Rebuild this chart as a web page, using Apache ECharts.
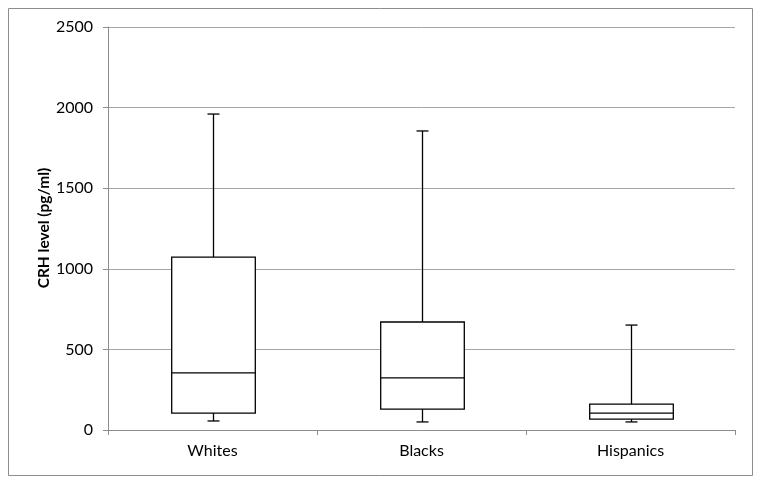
<!DOCTYPE html>
<html><head><meta charset="utf-8">
<script src="https://cdn.jsdelivr.net/npm/echarts@6/dist/echarts.min.js"></script>
<style>html,body{margin:0;padding:0;background:#fff}#c{width:761px;height:483px}</style>
</head><body><div id="c"></div>
<script>
const categories = ['Whites', 'Blacks', 'Hispanics'];
const whiskerLow = [56, 50, 50];
const q1 = [105, 130, 68];
const median = [354, 323, 105];
const q3 = [1073, 670, 161];
const whiskerHigh = [1960, 1855, 651];
const yTicks = [0, 500, 1000, 1500, 2000, 2500];
const yAxisTitle = 'CRH level (pg/ml)';

const data = categories.map((c, i) => [i, whiskerLow[i], q1[i], median[i], q3[i], whiskerHigh[i]]);

const chart = echarts.init(document.getElementById('c'));
const font = 'Lato, "Open Sans", sans-serif';
chart.setOption({
  animation: false,
  graphic: [
    {type: 'rect', shape: {x: 8.5, y: 8.5, width: 744, height: 467}, style: {fill: 'none', stroke: '#8c8c8c', lineWidth: 1}, silent: true},
    {type: 'text', x: 44, y: 228, rotation: Math.PI / 2, silent: true,
     style: {text: yAxisTitle, fill: '#000', fontSize: 15.5, fontWeight: 'bold', fontFamily: font, align: 'center', verticalAlign: 'middle'}}
  ],
  grid: {left: 108, right: 26, top: 27, bottom: 53},
  xAxis: {
    type: 'category', data: categories, boundaryGap: true,
    axisLine: {lineStyle: {color: '#8c8c8c'}},
    axisTick: {show: true, length: 5, lineStyle: {color: '#8c8c8c'}},
    axisLabel: {color: '#000', fontSize: 16, fontFamily: font, margin: 13},
    splitLine: {show: false}
  },
  yAxis: {
    type: 'value', min: yTicks[0], max: yTicks[yTicks.length - 1], interval: 500,
    axisLine: {show: true, lineStyle: {color: '#8c8c8c'}},
    axisTick: {show: true, length: 5, lineStyle: {color: '#8c8c8c'}},
    axisLabel: {color: '#000', fontSize: 16, fontFamily: font, margin: 15, formatter: v => String(v)},
    splitLine: {lineStyle: {color: '#a6a6a6', width: 1}}
  },
  series: [{
    type: 'custom',
    data: data,
    encode: {x: 0, y: [1, 2, 3, 4, 5]},
    renderItem: function (params, api) {
      const idx = api.value(0);
      const band = api.size([1, 0])[0];
      const bw = band * 0.4;
      const cap = 6;
      const pLow = api.coord([idx, api.value(1)]);
      const pQ1 = api.coord([idx, api.value(2)]);
      const pMed = api.coord([idx, api.value(3)]);
      const pQ3 = api.coord([idx, api.value(4)]);
      const pHigh = api.coord([idx, api.value(5)]);
      const x = Math.round(pMed[0]) + 0.5;
      const st = {stroke: '#000', lineWidth: 1.3, fill: 'none'};
      return {
        type: 'group',
        children: [
          {type: 'line', shape: {x1: x, y1: pHigh[1], x2: x, y2: pQ3[1]}, style: st},
          {type: 'line', shape: {x1: x - cap, y1: pHigh[1], x2: x + cap, y2: pHigh[1]}, style: st},
          {type: 'line', shape: {x1: x, y1: pQ1[1], x2: x, y2: pLow[1]}, style: st},
          {type: 'line', shape: {x1: x - cap, y1: pLow[1], x2: x + cap, y2: pLow[1]}, style: st},
          {type: 'rect', shape: {x: x - bw / 2, y: pQ3[1], width: bw, height: pQ1[1] - pQ3[1]}, style: {stroke: '#000', lineWidth: 1.3, fill: '#fff'}},
          {type: 'line', shape: {x1: x - bw / 2, y1: pMed[1], x2: x + bw / 2, y2: pMed[1]}, style: st}
        ]
      };
    }
  }]
});
</script>
</body></html>
